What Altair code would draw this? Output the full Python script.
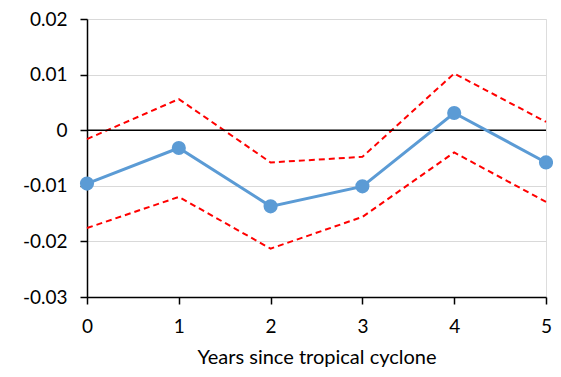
import altair as alt
import pandas as pd

years = [0, 1, 2, 3, 4, 5]
mean_vals = [-0.0096, -0.0032, -0.0137, -0.0101, 0.0031, -0.0058]
upper_vals = [-0.0016, 0.0056, -0.0058, -0.0048, 0.0102, 0.0015]
lower_vals = [-0.0176, -0.0120, -0.0213, -0.0156, -0.0040, -0.0129]
y_ticks = [-0.03, -0.02, -0.01, 0, 0.01, 0.02]
x_ticks = [0, 1, 2, 3, 4, 5]

mean_df = pd.DataFrame({"year": years, "value": mean_vals})
ci_df = pd.DataFrame({
    "year": years + years,
    "value": upper_vals + lower_vals,
    "bound": ["upper"] * len(years) + ["lower"] * len(years),
})
zero_df = pd.DataFrame({"value": [0]})

FONT = "Lato"

x_enc = alt.X("year:Q", scale=alt.Scale(domain=[0, 5], nice=False),
              axis=alt.Axis(values=x_ticks, format="d", title="Years since tropical cyclone",
                            grid=False, domainColor="black", domainWidth=1.5,
                            tickColor="black", tickWidth=1.5, tickSize=7, labelFlush=False,
                            labelPadding=13, titlePadding=11,
                            labelFontSize=19, titleFontSize=20, labelColor="black",
                            titleColor="black", titleFontWeight="normal",
                            labelFont=FONT, titleFont=FONT))
y_enc = alt.Y("value:Q", scale=alt.Scale(domain=[-0.03, 0.02], nice=False),
              axis=alt.Axis(values=y_ticks, title=None, grid=True, gridColor="#d9d9d9",
                            gridWidth=1.2, domainColor="black", domainWidth=1.5,
                            tickColor="black", tickWidth=1.5, tickSize=7, labelPadding=13,
                            labelFontSize=19, labelColor="black", labelFont=FONT,
                            labelExpr="datum.value == 0 ? '0' : (datum.value < 0 ? '-' : '') + format(abs(datum.value), '.2f')"))

zero = alt.Chart(zero_df).mark_rule(color="black", strokeWidth=1.5).encode(
    y=alt.Y("value:Q", scale=alt.Scale(domain=[-0.03, 0.02], nice=False))
)

ci = alt.Chart(ci_df).mark_line(color="#ff0000", strokeWidth=2, strokeDash=[6, 4]).encode(
    x=x_enc, y=y_enc, detail="bound:N"
)

mean_line = alt.Chart(mean_df).mark_line(
    color="#5b9bd5", strokeWidth=3,
    point=alt.OverlayMarkDef(filled=True, color="#5b9bd5", size=200, opacity=1)
).encode(x=x_enc, y=y_enc)

chart = alt.layer(ci, zero, mean_line).properties(
    width=459, height=278,
    autosize=alt.AutoSizeParams(type="none"),
    padding={"left": 79, "top": 11, "right": 7, "bottom": 72},
).configure_view(stroke=None).configure(background="white")

chart.save("out.html", embed_options={"renderer": "svg", "actions": False})
